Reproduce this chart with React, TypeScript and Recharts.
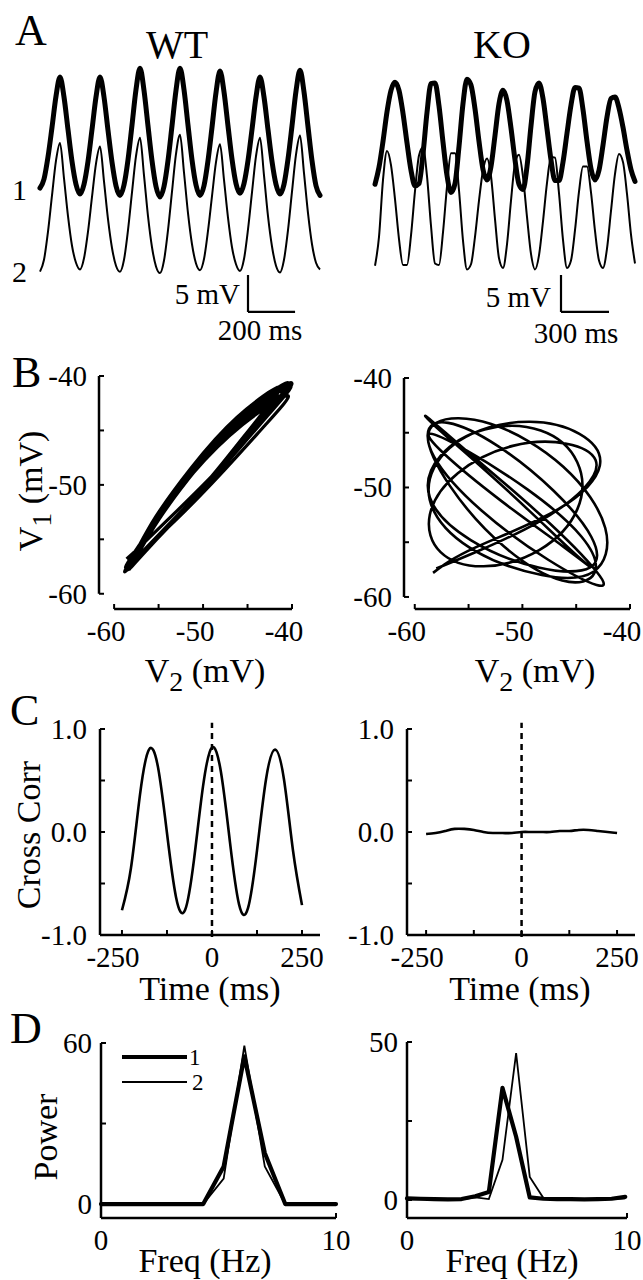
import React from "react";
import { LineChart, Line, XAxis, YAxis, ReferenceLine, Legend } from "recharts";

const FONT = "'Liberation Serif','Times New Roman',Times,serif";
const INK = "#000";

// ---------- Panel A / B : WT membrane potentials (ms, mV) ----------
const wtTime = [0, 17, 34, 51, 68, 85, 102, 119, 136, 153, 170, 187, 204, 221, 238, 255, 272, 289, 306, 323, 340, 357, 374, 391, 408, 425, 442, 459, 476, 493, 510, 527, 544, 561, 578, 595, 612, 629, 646, 663, 680, 697, 714, 731, 748, 765, 782, 799, 816, 833, 850, 867, 884, 901, 918, 935, 952, 969, 986, 1003, 1020, 1037, 1054, 1071, 1088, 1105, 1122, 1139, 1156, 1173, 1190];
const wtV1 = [-56.8, -55.6, -52.6, -48.6, -44.4, -41.8, -44.5, -48.9, -53.2, -56.3, -57.6, -56.3, -53.2, -48.9, -44.5, -41.8, -44.5, -49.0, -53.3, -56.5, -57.8, -56.4, -53.0, -48.3, -43.5, -40.6, -43.6, -48.4, -53.1, -56.6, -58.0, -56.6, -53.1, -48.4, -43.6, -40.6, -43.5, -48.3, -53.0, -56.4, -57.8, -56.5, -53.1, -48.6, -43.9, -41.0, -43.8, -48.4, -52.9, -56.2, -57.5, -56.2, -53.1, -48.9, -44.5, -41.8, -44.5, -48.9, -53.2, -56.3, -57.6, -56.3, -52.9, -48.4, -43.7, -40.9, -43.8, -48.5, -53.1, -56.5, -57.8];
const wtV2 = [-58.6, -57.0, -53.2, -48.3, -43.6, -41.2, -46.0, -51.1, -55.1, -57.4, -58.3, -56.8, -53.2, -48.5, -44.0, -41.7, -46.4, -51.5, -55.4, -57.8, -58.6, -57.0, -53.0, -47.9, -43.0, -40.5, -45.6, -51.1, -55.3, -57.9, -58.8, -57.1, -53.0, -47.8, -42.7, -40.1, -45.2, -50.7, -54.9, -57.5, -58.4, -56.9, -53.1, -48.4, -43.8, -41.4, -46.2, -51.3, -55.3, -57.6, -58.5, -56.9, -52.9, -47.9, -43.0, -40.5, -45.6, -51.1, -55.2, -57.8, -58.7, -57.0, -53.0, -47.8, -42.8, -40.2, -45.3, -50.7, -54.9, -57.4, -58.3];

// ---------- Panel A / B : KO membrane potentials (ms, mV) ----------
const koTime = [0, 25, 50, 75, 100, 125, 150, 175, 200, 225, 250, 275, 300, 325, 350, 375, 400, 425, 450, 475, 500, 525, 550, 575, 600, 625, 650, 675, 700, 725, 750, 775, 800, 825, 850, 875, 900, 925, 950, 975, 1000, 1025, 1050, 1075, 1100, 1125, 1150, 1175, 1200, 1225, 1250, 1275, 1300, 1325, 1350, 1375, 1400, 1425, 1450, 1475, 1500, 1525, 1550, 1575, 1600, 1625];
const koV1 = [-57.8, -55.5, -52.0, -48.0, -45.1, -44.0, -45.1, -48.2, -52.2, -55.9, -58.0, -57.7, -53.7, -48.1, -44.2, -44.1, -47.2, -52.1, -56.6, -58.9, -57.7, -52.7, -46.9, -43.6, -44.4, -47.6, -52.0, -55.8, -57.2, -55.4, -51.2, -46.9, -45.1, -46.5, -50.2, -54.5, -57.8, -58.5, -55.4, -49.9, -45.3, -44.1, -46.2, -50.3, -54.5, -57.3, -57.3, -54.8, -50.9, -47.1, -44.7, -44.8, -47.7, -52.0, -55.7, -57.2, -55.9, -52.5, -48.7, -46.2, -46.0, -47.5, -50.1, -53.2, -55.8, -57.4];
const koV2 = [-58.3, -54.4, -46.7, -42.8, -44.7, -49.3, -54.7, -58.2, -58.2, -54.2, -48.2, -43.4, -42.3, -46.2, -52.9, -58.0, -58.2, -53.8, -47.6, -43.1, -43.1, -48.1, -54.9, -58.8, -58.1, -54.4, -49.5, -45.4, -43.8, -46.2, -52.0, -57.3, -58.6, -55.4, -49.5, -44.5, -43.3, -46.3, -51.7, -56.7, -58.8, -56.9, -52.3, -47.1, -43.6, -43.7, -48.5, -54.8, -58.6, -57.6, -53.5, -48.3, -44.9, -44.9, -48.4, -53.6, -57.6, -58.6, -56.0, -50.9, -45.9, -43.2, -44.3, -48.6, -54.1, -58.0];

// ---------- Panel C : cross-correlation ----------
const lagMs = [-250, -225, -200, -175, -150, -125, -100, -75, -50, -25, 0, 25, 50, 75, 100, 125, 150, 175, 200, 225, 250];
const wtCorr = [-0.76, -0.35, 0.36, 0.8, 0.63, -0.01, -0.63, -0.76, -0.27, 0.44, 0.82, 0.58, -0.1, -0.7, -0.74, -0.18, 0.51, 0.8, 0.51, -0.18, -0.71];
const koCorr = [-0.02, -0.01, 0.01, 0.03, 0.03, 0.02, 0.0, -0.01, -0.01, -0.01, 0.0, 0.0, 0.0, 0.0, 0.01, 0.01, 0.02, 0.02, 0.01, 0.0, -0.01];

// ---------- Panel D : power spectra ----------
const wtFreq = [0, 0.87, 1.74, 2.61, 3.48, 4.35, 5.22, 6.1, 6.97, 7.84, 8.71, 9.58, 10];
const wtPow1 = [0, 0, 0, 0, 0, 0, 14, 55, 19, 0, 0, 0, 0];
const wtPow2 = [0, 0, 0, 0, 0, 0, 9.5, 59, 14, 0, 0, 0, 0];
const koFreq = [0, 0.62, 1.24, 1.86, 2.48, 3.1, 3.72, 4.34, 4.96, 5.58, 6.2, 6.82, 7.44, 8.06, 8.68, 9.3, 9.92];
const koPow1 = [0.5, 0.4, 0.3, 0.2, 0.3, 1.2, 2.5, 35.5, 20, 0.8, 0.4, 0.3, 0.3, 0.2, 0.3, 0.4, 1.0];
const koPow2 = [0.3, 0.2, 0.2, 0.1, 0.2, 0.8, 0.3, 12.7, 46.5, 7.3, 0.6, 0.3, 0.2, 0.2, 0.2, 0.3, 0.5];

// ticks
const vTicks = [-60, -55, -50, -45, -40];
const vLabels = [-60, -50, -40];
const corrTicks = [-1, -0.5, 0, 0.5, 1];
const corrLabels = [-1, 0, 1];
const lagTicks = [-250, -125, 0, 125, 250];
const lagLabels = [-250, 0, 250];
const freqTicks = [0, 10];
const legendNames = ["1", "2"];
const legendWidths = [4.2, 1.8];

// scale bars: [time, mV]
const wtBar = { t: 884, v: -73.55, dt: 200, dv: 5 };
const koBar = { t: 1162.5, v: -75.05, dt: 300, dv: 5 };

const wtRows = wtTime.map((t, i) => ({ t, v1: wtV1[i], v2: wtV2[i] }));
const koRows = koTime.map((t, i) => ({ t, v1: koV1[i], v2: koV2[i] }));
const wtCorrRows = lagMs.map((t, i) => ({ t, r: wtCorr[i] }));
const koCorrRows = lagMs.map((t, i) => ({ t, r: koCorr[i] }));
const wtPowRows = wtFreq.map((f, i) => ({ f, p1: wtPow1[i], p2: wtPow2[i] }));
const koPowRows = koFreq.map((f, i) => ({ f, p1: koPow1[i], p2: koPow2[i] }));

type Plot = { l: number; t: number; r: number; b: number };
const PAD = { l: 72, t: 30, r: 20, b: 56 };
const XH = 40;
const YW = 60;
function frame(p: Plot) {
  return {
    style: { position: "absolute" as const, left: p.l - PAD.l, top: p.t - PAD.t },
    width: p.r - p.l + PAD.l + PAD.r,
    height: p.b - p.t + PAD.t + PAD.b,
    margin: { top: PAD.t, right: PAD.r, bottom: PAD.b - XH, left: PAD.l - YW },
  };
}

const tickText = { fontFamily: FONT, fontSize: 29, fill: INK };

function yTick(labels: number[], fmt: (v: number) => string, gap = 12) {
  return (p: any) => {
    const v = p.payload.value;
    return (
      <g>
        <line x1={p.x} x2={p.x + 5} y1={p.y} y2={p.y} stroke={INK} strokeWidth={2} />
        {labels.includes(v) ? (
          <text x={p.x - gap} y={p.y + 10} textAnchor="end" {...tickText}>
            {fmt(v)}
          </text>
        ) : null}
      </g>
    );
  };
}

function xTick(labels: number[], fmt: (v: number) => string, negShift = -8) {
  return (p: any) => {
    const v = p.payload.value;
    return (
      <g>
        <line x1={p.x} x2={p.x} y1={p.y} y2={p.y - 5} stroke={INK} strokeWidth={2} />
        {labels.includes(v) ? (
          <text x={p.x + (v < 0 ? negShift : 0)} y={p.y + 32} textAnchor="middle" {...tickText}>
            {fmt(v)}
          </text>
        ) : null}
      </g>
    );
  };
}

const intFmt = (v: number) => String(v);
const oneDec = (v: number) => v.toFixed(1);
const axisLine = { stroke: INK, strokeWidth: 2.5 };

function TracePanel(props: {
  rows: any[];
  tMax: number;
  v1Dom: [number, number];
  v2Dom: [number, number];
  boxLeft: number;
  boxWidth: number;
  plotLeft: number;
  plotWidth: number;
  bar: { t: number; v: number; dt: number; dv: number };
}) {
  const { rows, tMax, v1Dom, v2Dom, boxLeft, boxWidth, plotLeft, plotWidth, bar } = props;
  const top = 40;
  const plotTop = 60;
  const plotH = 222;
  const boxH = 320;
  return (
    <div style={{ position: "absolute", left: boxLeft, top }}>
      <LineChart
        width={boxWidth}
        height={boxH}
        data={rows}
        margin={{
          top: plotTop - top,
          left: plotLeft - boxLeft,
          right: boxWidth - (plotLeft - boxLeft) - plotWidth,
          bottom: boxH - (plotTop - top) - plotH,
        }}
      >
        <XAxis type="number" dataKey="t" domain={[0, tMax]} hide />
        <YAxis yAxisId="v1" type="number" domain={v1Dom} hide />
        <YAxis yAxisId="v2" type="number" domain={v2Dom} hide />
        <Line yAxisId="v1" dataKey="v1" type="monotone" stroke={INK} strokeWidth={5} strokeLinecap="round" strokeLinejoin="round" dot={false} activeDot={false} isAnimationActive={false} />
        <Line yAxisId="v2" dataKey="v2" type="monotone" stroke={INK} strokeWidth={2} dot={false} activeDot={false} isAnimationActive={false} />
        <ReferenceLine yAxisId="v1" ifOverflow="visible" segment={[{ x: bar.t, y: bar.v + bar.dv }, { x: bar.t, y: bar.v }]} stroke={INK} strokeWidth={2.2} />
        <ReferenceLine yAxisId="v1" ifOverflow="visible" segment={[{ x: bar.t, y: bar.v }, { x: bar.t + bar.dt, y: bar.v }]} stroke={INK} strokeWidth={2.2} />
      </LineChart>
    </div>
  );
}

function PhasePanel(props: { rows: any[]; plot: Plot; xDom: [number, number]; yDom: [number, number]; width: number }) {
  const { rows, plot, xDom, yDom, width } = props;
  const f = frame(plot);
  return (
    <div style={f.style}>
      <LineChart width={f.width} height={f.height} data={rows} margin={f.margin}>
        <XAxis type="number" dataKey="v2" domain={xDom} ticks={vTicks} interval={0} height={XH} axisLine={false} tickLine={false} tickSize={0} tickMargin={0} tick={xTick(vLabels, intFmt)} />
        <YAxis type="number" domain={yDom} ticks={vTicks} interval={0} width={YW} axisLine={false} tickLine={false} tickSize={0} tickMargin={0} tick={yTick(vLabels, intFmt)} />
        <ReferenceLine ifOverflow="visible" segment={[{ x: xDom[0], y: -60 }, { x: xDom[0], y: -40 }]} stroke={INK} strokeWidth={2.5} />
        <ReferenceLine ifOverflow="visible" segment={[{ x: -60, y: yDom[0] }, { x: -40, y: yDom[0] }]} stroke={INK} strokeWidth={2.5} />
        <Line dataKey="v1" type="natural" stroke={INK} strokeWidth={width} strokeLinejoin="round" dot={false} activeDot={false} isAnimationActive={false} />
      </LineChart>
    </div>
  );
}

function CorrPanel(props: { rows: any[]; plot: Plot; xDom: [number, number] }) {
  const { rows, plot, xDom } = props;
  const f = frame(plot);
  return (
    <div style={f.style}>
      <LineChart width={f.width} height={f.height} data={rows} margin={f.margin}>
        <XAxis type="number" dataKey="t" domain={xDom} ticks={lagTicks} interval={0} height={XH} axisLine={axisLine} tickLine={false} tickSize={0} tickMargin={0} tick={xTick(lagLabels, intFmt, -9)} />
        <YAxis type="number" domain={[-1, 1]} ticks={corrTicks} interval={0} width={YW} axisLine={axisLine} tickLine={false} tickSize={0} tickMargin={0} tick={yTick(corrLabels, oneDec, 13)} />
        <ReferenceLine ifOverflow="visible" segment={[{ x: 0, y: -1.02 }, { x: 0, y: 1.06 }]} stroke={INK} strokeWidth={2.5} strokeDasharray="6 5" />
        <Line dataKey="r" type="natural" stroke={INK} strokeWidth={2.6} dot={false} activeDot={false} isAnimationActive={false} />
      </LineChart>
    </div>
  );
}

function LegendBox(props: any) {
  const payload = props.payload || [];
  return (
    <svg width={110} height={52}>
      {payload.map((e: any, i: number) => (
        <g key={i}>
          <line x1={3} x2={68} y1={12 + i * 25} y2={12 + i * 25} stroke={INK} strokeWidth={legendWidths[i]} />
          <text x={70 + i * 3} y={20 + i * 25} fontFamily={FONT} fontSize={23} fill={INK}>
            {e.value}
          </text>
        </g>
      ))}
    </svg>
  );
}

function PowerPanel(props: { rows: any[]; plot: Plot; yDom: [number, number]; yTicks: number[]; yLabels: number[]; legend?: boolean }) {
  const { rows, plot, yDom, yTicks, yLabels, legend } = props;
  const f = frame(plot);
  return (
    <div style={f.style}>
      <LineChart width={f.width} height={f.height} data={rows} margin={f.margin}>
        <XAxis type="number" dataKey="f" domain={[0, 10]} ticks={freqTicks} interval={0} height={XH} axisLine={axisLine} tickLine={false} tickSize={0} tickMargin={0} tick={xTick(freqTicks, intFmt)} />
        <YAxis type="number" domain={yDom} ticks={yTicks} interval={0} width={YW} axisLine={axisLine} tickLine={false} tickSize={0} tickMargin={0} tick={yTick(yLabels, intFmt, 9)} />
        <Line name={legendNames[0]} dataKey="p1" type="linear" stroke={INK} strokeWidth={legendWidths[0]} strokeLinejoin="round" strokeLinecap="round" dot={false} activeDot={false} isAnimationActive={false} />
        <Line name={legendNames[1]} dataKey="p2" type="linear" stroke={INK} strokeWidth={legendWidths[1]} dot={false} activeDot={false} isAnimationActive={false} />
        {legend ? (
          <Legend
            layout="vertical"
            align="center"
            verticalAlign="middle"
            wrapperStyle={{ position: "absolute", left: 90, top: PAD.t + 2, width: 110, height: 52 }}
            content={(p: any) => <LegendBox {...p} />}
          />
        ) : null}
      </LineChart>
    </div>
  );
}

function Overlay() {
  const t = { fontFamily: FONT, fill: INK } as const;
  const sub = (n: string, x: number, y: number, rot?: boolean) => (
    <text x={x} y={y} textAnchor="middle" fontSize={34} {...t} transform={rot ? `rotate(-90 ${x} ${y})` : undefined}>
      <tspan>V</tspan>
      <tspan dy={9} fontSize={28}>{n}</tspan>
      <tspan dy={-9}> (mV)</tspan>
    </text>
  );
  return (
    <svg width={643} height={1280} style={{ position: "absolute", left: 0, top: 0, pointerEvents: "none" }}>
      <text x={15} y={45} fontSize={44} {...t}>A</text>
      <text x={177} y={58} fontSize={40} textAnchor="middle" {...t}>WT</text>
      <text x={502} y={58} fontSize={40} textAnchor="middle" {...t}>KO</text>
      <text x={12} y={200} fontSize={30} {...t}>1</text>
      <text x={12} y={282} fontSize={30} {...t}>2</text>
      <text x={240} y={304} fontSize={29} textAnchor="end" {...t}>5 mV</text>
      <text x={260} y={340} fontSize={29} textAnchor="middle" {...t}>200 ms</text>
      <text x={551} y={307} fontSize={29} textAnchor="end" {...t}>5 mV</text>
      <text x={576} y={343} fontSize={29} textAnchor="middle" {...t}>300 ms</text>

      <text x={12} y={387} fontSize={44} {...t}>B</text>
      {sub("1", 42, 491, true)}
      {sub("2", 205, 682)}
      {sub("2", 535, 682)}

      <text x={10} y={725} fontSize={44} {...t}>C</text>
      <text x={40} y={835} fontSize={34} textAnchor="middle" transform="rotate(-90 40 835)" {...t}>Cross Corr</text>
      <text x={210} y={1000} fontSize={34} textAnchor="middle" {...t}>Time (ms)</text>
      <text x={520} y={1000} fontSize={34} textAnchor="middle" {...t}>Time (ms)</text>

      <text x={10} y={1043} fontSize={44} {...t}>D</text>
      <text x={57} y={1137} fontSize={34} textAnchor="middle" transform="rotate(-90 57 1137)" {...t}>Power</text>
      <text x={205} y={1272} fontSize={34} textAnchor="middle" {...t}>Freq (Hz)</text>
      <text x={512} y={1272} fontSize={34} textAnchor="middle" {...t}>Freq (Hz)</text>
    </svg>
  );
}

export default function App() {
  return (
    <div style={{ position: "absolute", left: 0, top: 0, width: 643, height: 1280, overflow: "hidden", background: "#fff" }}>
      <TracePanel rows={wtRows} tMax={1190} v1Dom={[-69.5, -39.5]} v2Dom={[-60, -30]} boxLeft={0} boxWidth={330} plotLeft={40} plotWidth={280} bar={wtBar} />
      <TracePanel rows={koRows} tMax={1625} v1Dom={[-71, -41]} v2Dom={[-60.5, -30.5]} boxLeft={340} boxWidth={300} plotLeft={375} plotWidth={260} bar={koBar} />

      <PhasePanel rows={wtRows} plot={{ l: 99, t: 376, r: 292, b: 609 }} xDom={[-61.7, -40]} yDom={[-61.4, -40]} width={3.2} />
      <PhasePanel rows={koRows} plot={{ l: 404, t: 378, r: 630, b: 609 }} xDom={[-61.0, -40]} yDom={[-61.1, -40]} width={2.6} />

      <CorrPanel rows={wtCorrRows} plot={{ l: 100, t: 729, r: 320, b: 935 }} xDom={[-311, 300]} />
      <CorrPanel rows={koCorrRows} plot={{ l: 407, t: 729, r: 635, b: 935 }} xDom={[-300, 297]} />

      <PowerPanel rows={wtPowRows} plot={{ l: 101, t: 1043, r: 336, b: 1218 }} yDom={[-5.2, 60]} yTicks={[0, 30, 60]} yLabels={[0, 60]} legend />
      <PowerPanel rows={koPowRows} plot={{ l: 407, t: 1042, r: 627, b: 1218 }} yDom={[-5.7, 50]} yTicks={[0, 25, 50]} yLabels={[0, 50]} />

      <Overlay />
    </div>
  );
}
